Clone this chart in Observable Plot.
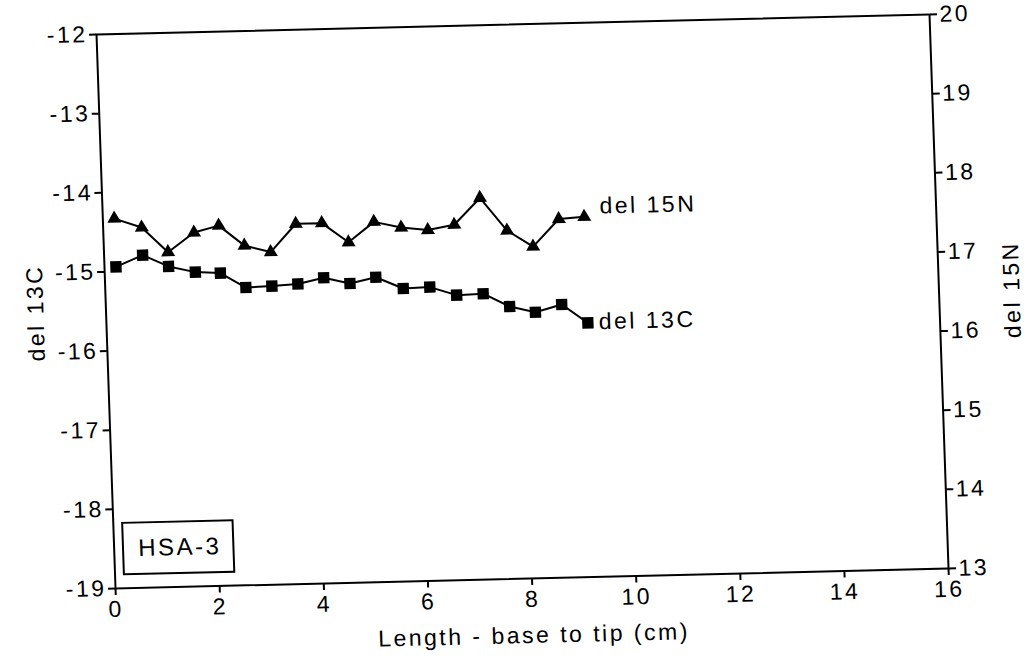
<!DOCTYPE html>
<html>
<head>
<meta charset="utf-8">
<script src="https://cdn.jsdelivr.net/npm/d3@7"></script>
<script src="https://cdn.jsdelivr.net/npm/@observablehq/plot@0.6"></script>
<style>
  html, body { margin: 0; padding: 0; background: #fff; overflow: hidden; }
  #chart svg { display: block; transform-origin: 96px 34px; transform: matrix(1, -0.024, 0.0343, 1, 0, 0); }
</style>
</head>
<body>
<div id="chart"></div>
<script>
// ---- data (positions as they sit in the scanned figure) ----
const lengthCm = [0.22, 0.74, 1.23, 1.74, 2.22, 2.70, 3.20, 3.70, 4.20, 4.70,
                  5.20, 5.72, 6.23, 6.74, 7.25, 7.75, 8.24, 8.75, 9.24];
const del13C = [-14.94, -14.80, -14.95, -15.03, -15.05, -15.24, -15.23, -15.21, -15.14, -15.22,
                -15.15, -15.30, -15.29, -15.40, -15.39, -15.56, -15.64, -15.55, -15.79];
const del15N = [17.67, 17.55, 17.23, 17.47, 17.55, 17.29, 17.20, 17.55, 17.55, 17.30,
                17.55, 17.47, 17.43, 17.49, 17.82, 17.40, 17.19, 17.53, 17.55];
const xTicks = [0, 2, 4, 6, 8, 10, 12, 14, 16];
const leftTicks = [-19, -18, -17, -16, -15, -14, -13, -12];
const rightTicks = [13, 14, 15, 16, 17, 18, 19, 20];
const seriesLabels = ["del 15N", "del 13C"];
const sampleLabel = "HSA-3";
const xTitle = "Length - base to tip (cm)";
const yLeftTitle = "del 13C";
const yRightTitle = "del 15N";

// right axis (del 15N, 13..20) shares the frame with the left axis (del 13C, -19..-12)
const shift = rightTicks[0] - leftTicks[0]; // 32

const c13 = lengthCm.map((x, i) => ({x, y: del13C[i]}));
const n15 = lengthCm.map((x, i) => ({x, y: del15N[i] - shift}));

const labelRows = [
  {x: 9.54, y: 17.68 - shift, t: seriesLabels[0]},
  {x: 9.45, y: -15.78, t: seriesLabels[1]}
];

const font = "'Liberation Sans', Arial, Helvetica, sans-serif";

const chart = Plot.plot({
  width: 1027,
  height: 658,
  marginLeft: 96,
  marginTop: 34,
  marginRight: 98,
  marginBottom: 70,
  style: {fontFamily: font, fontSize: "23px", color: "#000", background: "#fff", letterSpacing: "2.5px"},
  x: {domain: [0, 16]},
  y: {domain: [-19, -12]},
  marks: [
    Plot.frame({stroke: "#000", strokeWidth: 2}),
    Plot.axisX(xTicks, {anchor: "bottom", tickSize: 7, tickPadding: 5, strokeWidth: 2, fontSize: 23, label: null, tickFormat: d => String(d)}),
    Plot.axisY(leftTicks, {anchor: "left", tickSize: 7, tickPadding: 2, strokeWidth: 2, fontSize: 23, label: null, tickFormat: d => String(d)}),
    Plot.axisY(rightTicks.map(t => t - shift), {anchor: "right", tickSize: 7, tickPadding: 3, strokeWidth: 2, fontSize: 23, label: null, tickFormat: d => String(d + shift)}),
    Plot.line(c13, {x: "x", y: "y", stroke: "#000", strokeWidth: 2}),
    Plot.dot(c13, {x: "x", y: "y", symbol: "square", r: 6.4, fill: "#000", stroke: "none"}),
    Plot.line(n15, {x: "x", y: "y", stroke: "#000", strokeWidth: 2}),
    Plot.dot(n15, {x: "x", y: "y", symbol: "triangle", r: 5.2, fill: "#000", stroke: "none"}),
    Plot.text(labelRows, {x: "x", y: "y", text: "t", textAnchor: "start", lineAnchor: "middle", fontSize: 23, fill: "#000"}),
    Plot.rect([sampleLabel], {x1: 0.18, x2: 2.3, y1: -18.83, y2: -18.18, fill: "none", stroke: "#000", strokeWidth: 2}),
    Plot.text([sampleLabel], {x: 1.26, y: -18.5, text: d => d, fontSize: 24, textAnchor: "middle", lineAnchor: "middle", fill: "#000"}),
    Plot.text([xTitle], {frameAnchor: "bottom", dy: 57, textAnchor: "middle", lineAnchor: "middle", fontSize: 23, fill: "#000"}),
    Plot.text([yLeftTitle], {frameAnchor: "left", dx: -70, rotate: -90, textAnchor: "middle", lineAnchor: "middle", fontSize: 23, fill: "#000"}),
    Plot.text([yRightTitle], {frameAnchor: "right", dx: 73, rotate: -90, textAnchor: "middle", lineAnchor: "middle", fontSize: 23, fill: "#000"})
  ]
});
document.getElementById("chart").appendChild(chart);
</script>
</body>
</html>
